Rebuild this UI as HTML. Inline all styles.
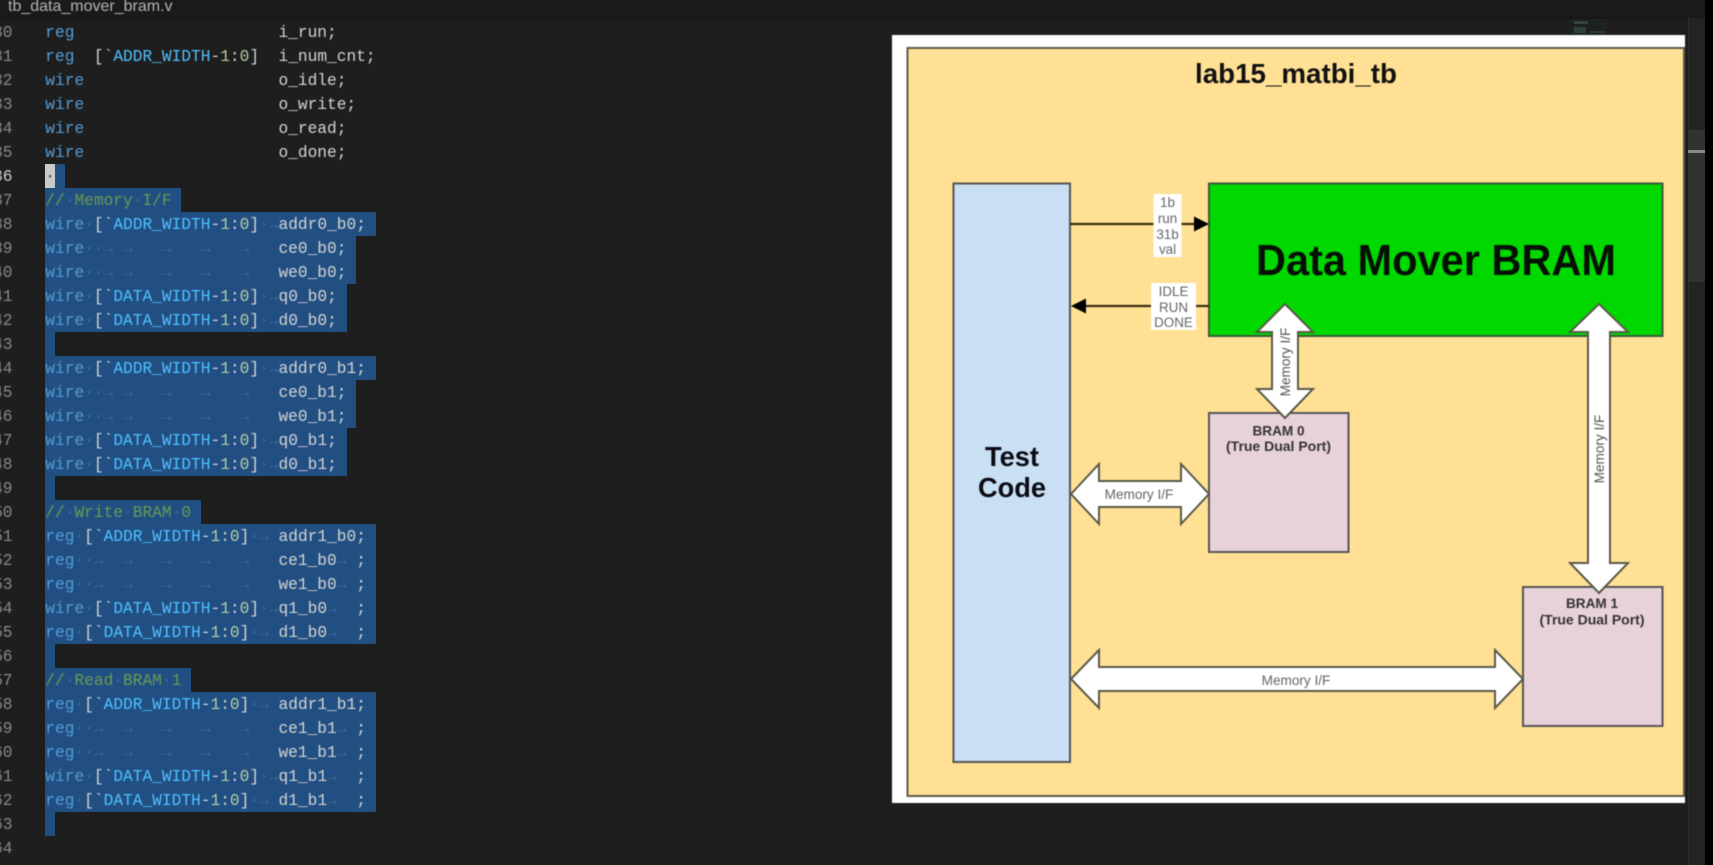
<!DOCTYPE html>
<html lang="en">
<head>
<meta charset="utf-8">
<title>tb_data_mover_bram.v</title>
<style>
html,body{margin:0;padding:0;background:#1e1e1e;}
#root{position:relative;width:1713px;height:865px;overflow:hidden;background:#1e1e1e;}
#top{position:absolute;left:0;top:0;width:1713px;height:17px;background:#1a1a1a;box-shadow:0 1px 3px #111;}
#tab{position:absolute;left:8px;top:-2px;font:16px/18px "Liberation Sans",sans-serif;color:#b4b4b4;filter:blur(.4px);}
.s{position:absolute;background:#214f82;height:24px;left:45.3px;}
#nums,#code{position:absolute;top:20.5px;font-family:"Liberation Mono",monospace;font-size:16.2px;line-height:24px;white-space:pre;filter:blur(.5px);}
#nums{left:-80px;width:92.5px;text-align:right;color:#8a8a8a;}
#nums b{font-weight:normal;color:#d0d0d0;}
#code{left:45.3px;color:#d4d4d4;}
.k{color:#569cd6}.m{color:#4fc1ff}.n{color:#b5cea8}.c{color:#6a9955}.w{color:#3f6d9c}
#diagram{position:absolute;left:0;top:0;filter:blur(.55px);}
#diagram text{font-family:"Liberation Sans",sans-serif;text-anchor:middle;}
</style>
</head>
<body>
<div id="root">
  <div id="top"><div id="tab">tb_data_mover_bram.v</div></div>

  <div class="s" style="top:164px;width:20px"></div>
  <div style="position:absolute;left:45.3px;top:164px;width:10px;height:24px;background:#c9c9c9"></div>
  <div class="s" style="top:188px;width:136px"></div>
  <div class="s" style="top:212px;width:330.5px"></div>
  <div class="s" style="top:236px;width:311px;height:48px"></div>
  <div class="s" style="top:284px;width:301.3px;height:48px"></div>
  <div class="s" style="top:332px;width:9.7px"></div>
  <div class="s" style="top:356px;width:330.5px"></div>
  <div class="s" style="top:380px;width:311px;height:48px"></div>
  <div class="s" style="top:428px;width:301.3px;height:48px"></div>
  <div class="s" style="top:476px;width:9.7px"></div>
  <div class="s" style="top:500px;width:155.5px"></div>
  <div class="s" style="top:524px;width:330.5px;height:120px"></div>
  <div class="s" style="top:644px;width:9.7px"></div>
  <div class="s" style="top:668px;width:146px"></div>
  <div class="s" style="top:692px;width:330.5px;height:120px"></div>
  <div class="s" style="top:812px;width:9.7px"></div>

<div id="nums">30
31
32
33
34
35
<b>36</b>
37
38
39
40
41
42
43
44
45
46
47
48
49
50
51
52
53
54
55
56
57
58
59
60
61
62
63
64</div>

<div id="code"><span class="k">reg</span>                     i_run;
<span class="k">reg</span>  [`<span class="m">ADDR_WIDTH</span>-<span class="n">1</span>:<span class="n">0</span>]  i_num_cnt;
<span class="k">wire</span>                    o_idle;
<span class="k">wire</span>                    o_write;
<span class="k">wire</span>                    o_read;
<span class="k">wire</span>                    o_done;
<span style="color:#444">·</span>
<span class="c">//<span class="w">·</span>Memory<span class="w">·</span>I/F</span>
<span class="k">wire</span><span class="w">·</span>[`<span class="m">ADDR_WIDTH</span>-<span class="n">1</span>:<span class="n">0</span>]<span class="w">·→</span>addr0_b0;
<span class="k">wire</span><span class="w">··→ →   →   →   →   </span>ce0_b0;
<span class="k">wire</span><span class="w">··→ →   →   →   →   </span>we0_b0;
<span class="k">wire</span><span class="w">·</span>[`<span class="m">DATA_WIDTH</span>-<span class="n">1</span>:<span class="n">0</span>]<span class="w">·→</span>q0_b0;
<span class="k">wire</span><span class="w">·</span>[`<span class="m">DATA_WIDTH</span>-<span class="n">1</span>:<span class="n">0</span>]<span class="w">·→</span>d0_b0;

<span class="k">wire</span><span class="w">·</span>[`<span class="m">ADDR_WIDTH</span>-<span class="n">1</span>:<span class="n">0</span>]<span class="w">·→</span>addr0_b1;
<span class="k">wire</span><span class="w">··→ →   →   →   →   </span>ce0_b1;
<span class="k">wire</span><span class="w">··→ →   →   →   →   </span>we0_b1;
<span class="k">wire</span><span class="w">·</span>[`<span class="m">DATA_WIDTH</span>-<span class="n">1</span>:<span class="n">0</span>]<span class="w">·→</span>q0_b1;
<span class="k">wire</span><span class="w">·</span>[`<span class="m">DATA_WIDTH</span>-<span class="n">1</span>:<span class="n">0</span>]<span class="w">·→</span>d0_b1;

<span class="c">//<span class="w">·</span>Write<span class="w">·</span>BRAM<span class="w">·</span>0</span>
<span class="k">reg</span><span class="w">·</span>[`<span class="m">ADDR_WIDTH</span>-<span class="n">1</span>:<span class="n">0</span>]<span class="w">·→ </span>addr1_b0;
<span class="k">reg</span><span class="w">··→  →   →   →   →   </span>ce1_b0<span class="w">→ </span>;
<span class="k">reg</span><span class="w">··→  →   →   →   →   </span>we1_b0<span class="w">→ </span>;
<span class="k">wire</span><span class="w">·</span>[`<span class="m">DATA_WIDTH</span>-<span class="n">1</span>:<span class="n">0</span>]<span class="w">·→</span>q1_b0<span class="w">→  </span>;
<span class="k">reg</span><span class="w">·</span>[`<span class="m">DATA_WIDTH</span>-<span class="n">1</span>:<span class="n">0</span>]<span class="w">·→ </span>d1_b0<span class="w">→  </span>;

<span class="c">//<span class="w">·</span>Read<span class="w">·</span>BRAM<span class="w">·</span>1</span>
<span class="k">reg</span><span class="w">·</span>[`<span class="m">ADDR_WIDTH</span>-<span class="n">1</span>:<span class="n">0</span>]<span class="w">·→ </span>addr1_b1;
<span class="k">reg</span><span class="w">··→  →   →   →   →   </span>ce1_b1<span class="w">→ </span>;
<span class="k">reg</span><span class="w">··→  →   →   →   →   </span>we1_b1<span class="w">→ </span>;
<span class="k">wire</span><span class="w">·</span>[`<span class="m">DATA_WIDTH</span>-<span class="n">1</span>:<span class="n">0</span>]<span class="w">·→</span>q1_b1<span class="w">→  </span>;
<span class="k">reg</span><span class="w">·</span>[`<span class="m">DATA_WIDTH</span>-<span class="n">1</span>:<span class="n">0</span>]<span class="w">·→ </span>d1_b1<span class="w">→  </span>;


<span class="c">// DUT</span></div>

  <!-- minimap -->
  <div style="position:absolute;left:1571px;top:19px;width:35px;height:16px;background:#1c221e"></div>
  <div style="position:absolute;left:1574px;top:21px;width:14px;height:3px;background:#34433a"></div>
  <div style="position:absolute;left:1574px;top:27px;width:12px;height:6px;background:#2f4136"></div>
  <div style="position:absolute;left:1590px;top:31px;width:16px;height:2px;background:#2e3630"></div>
  <!-- scrollbar -->
  <div style="position:absolute;left:1688px;top:18px;width:17px;height:847px;background:#232323;border-left:1px solid #2f2f2f;box-sizing:border-box"></div>
  <div style="position:absolute;left:1688px;top:130px;width:17px;height:152px;background:#323232"></div>
  <div style="position:absolute;left:1688px;top:150px;width:17px;height:3px;background:#8a8a8a"></div>
  <div style="position:absolute;left:1705px;top:0;width:8px;height:865px;background:#000"></div>

  <svg id="diagram" width="1713" height="865" viewBox="0 0 1713 865">
    <rect x="892" y="35" width="793" height="768" fill="#ffffff"/>
    <rect x="907.5" y="48" width="776.5" height="748" fill="#ffe094" stroke="#5d5a48" stroke-width="2"/>
    <text x="1296" y="83" font-size="27.7" font-weight="bold" fill="#111" textLength="202" lengthAdjust="spacingAndGlyphs">lab15_matbi_tb</text>

    <rect x="953.5" y="183.5" width="116.5" height="578.5" fill="#c9dff3" stroke="#555" stroke-width="2"/>
    <text x="1012" y="466" font-size="28" font-weight="bold" fill="#0b0b14" textLength="54" lengthAdjust="spacingAndGlyphs">Test</text>
    <text x="1012" y="497" font-size="28" font-weight="bold" fill="#0b0b14" textLength="68" lengthAdjust="spacingAndGlyphs">Code</text>

    <rect x="1209" y="183.5" width="453.5" height="152.5" fill="#00d800" stroke="#3c5a3c" stroke-width="2"/>
    <text x="1436" y="275" font-size="44" font-weight="bold" fill="#041004" textLength="360" lengthAdjust="spacingAndGlyphs">Data Mover BRAM</text>

    <rect x="1209" y="413" width="139.5" height="139" fill="#e8d2da" stroke="#555" stroke-width="2"/>
    <text x="1278.5" y="435.5" font-size="13.6" font-weight="bold" fill="#333">BRAM 0</text>
    <text x="1278.5" y="451" font-size="13.6" font-weight="bold" fill="#333" textLength="105" lengthAdjust="spacingAndGlyphs">(True Dual Port)</text>

    <rect x="1523" y="587" width="139.5" height="139" fill="#e8d2da" stroke="#555" stroke-width="2"/>
    <text x="1592" y="608" font-size="13.6" font-weight="bold" fill="#333">BRAM 1</text>
    <text x="1592" y="624.5" font-size="13.6" font-weight="bold" fill="#333" textLength="105" lengthAdjust="spacingAndGlyphs">(True Dual Port)</text>

    <!-- control arrows -->
    <line x1="1070" y1="224" x2="1197" y2="224" stroke="#3a2c10" stroke-width="2.2"/>
    <polygon points="1194,216.5 1209,224 1194,231.5" fill="#000"/>
    <line x1="1209" y1="306" x2="1084" y2="306" stroke="#3a2c10" stroke-width="2.2"/>
    <polygon points="1086,298.5 1071,306 1086,313.5" fill="#000"/>
    <rect x="1153.5" y="194" width="28" height="63" fill="#fff"/>
    <g font-size="13.4" fill="#666">
      <text x="1167.5" y="207">1b</text>
      <text x="1167.5" y="223">run</text>
      <text x="1167.5" y="239">31b</text>
      <text x="1167.5" y="254">val</text>
    </g>
    <rect x="1151" y="283" width="45" height="47" fill="#fff"/>
    <g font-size="13.4" fill="#666">
      <text x="1173.5" y="296">IDLE</text>
      <text x="1173.5" y="312">RUN</text>
      <text x="1173.5" y="327">DONE</text>
    </g>

    <!-- vertical arrow: Data Mover to BRAM 0 -->
    <polygon points="1285,304 1313,332 1298,332 1298,389 1313,389 1285,418 1257,389 1272,389 1272,332 1257,332" fill="#fff" stroke="#5a5a48" stroke-width="2"/>
    <text transform="translate(1290,362) rotate(-90)" font-size="13.6" fill="#555">Memory I/F</text>

    <!-- vertical arrow: Data Mover to BRAM 1 -->
    <polygon points="1599,304 1628,332 1610,332 1610,563 1628,563 1599,593 1570,563 1588,563 1588,332 1570,332" fill="#fff" stroke="#5a5a48" stroke-width="2"/>
    <text transform="translate(1604,449) rotate(-90)" font-size="13.6" fill="#555">Memory I/F</text>

    <!-- horizontal arrow: Test Code to BRAM 0 -->
    <polygon points="1071,494 1099,464 1099,481 1181,481 1181,464 1209,494 1181,524 1181,507 1099,507 1099,524" fill="#fff" stroke="#5a5a48" stroke-width="2"/>
    <text x="1139" y="499" font-size="13.6" fill="#666">Memory I/F</text>

    <!-- horizontal arrow: Test Code to BRAM 1 -->
    <polygon points="1071,679 1099,650 1099,667 1495,667 1495,650 1523,679 1495,708 1495,691 1099,691 1099,708" fill="#fff" stroke="#5a5a48" stroke-width="2"/>
    <text x="1296" y="685" font-size="13.6" fill="#666">Memory I/F</text>
  </svg>
</div>
</body>
</html>
